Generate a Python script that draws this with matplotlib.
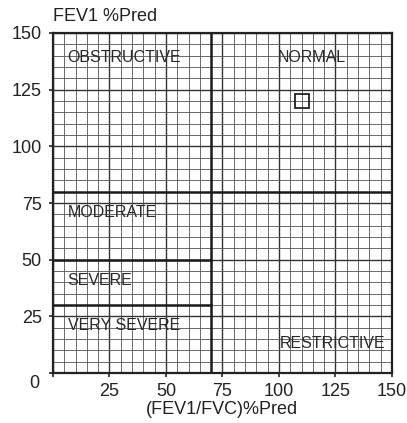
import matplotlib
matplotlib.use("Agg")
import matplotlib.pyplot as plt
import numpy as np

plt.rcParams['font.family'] = ['Liberation Sans', 'DejaVu Sans']

# ---- data ----
x_ticks = [0, 25, 50, 75, 100, 125, 150]
y_ticks = [0, 25, 50, 75, 100, 125, 150]
ratio_cut = 70          # (FEV1/FVC)%Pred boundary
fev1_normal_cut = 80    # FEV1 %Pred boundary (full width)
fev1_severity_cuts = [50, 30]  # left-side severity boundaries
region_names = ["OBSTRUCTIVE", "NORMAL", "MODERATE", "SEVERE", "VERY SEVERE", "RESTRICTIVE"]
region_x = [6.5, 99.5, 6.5, 6.5, 6.5, 100.5]
region_y = [139, 139, 71, 41, 21, 13]
point_x = [110]
point_y = [120]

fig = plt.figure(figsize=(4.07, 4.23), dpi=100)
ax = fig.add_axes([0.130, 0.118, 0.833, 0.804])

ax.set_xlim(0, 150)
ax.set_ylim(0, 150)

# grid
minor = np.arange(0, 151, 5)
ax.set_xticks(minor, minor=True)
ax.set_yticks(minor, minor=True)
ax.grid(which='minor', color='#5a5a5a', linewidth=0.7, alpha=0.9)
ax.grid(which='major', color='#333333', linewidth=1.0)
ax.tick_params(which='minor', length=0)
ax.set_axisbelow(True)

ax.set_xticks(x_ticks)
ax.set_xticklabels(['' if v == 0 else str(v) for v in x_ticks])
ax.set_yticks(y_ticks)
ax.set_yticklabels(['' if v == 0 else str(v) for v in y_ticks])
ax.tick_params(which='major', direction='out', length=3, width=1.2, labelsize=13,
               colors='#222222', pad=4)
ax.tick_params(axis='y', pad=5)
ax.text(-0.04, -0.03, "0", transform=ax.transAxes, ha='right', va='center',
        fontsize=13, color='#222222')

for s in ax.spines.values():
    s.set_linewidth(1.6)
    s.set_color('#222222')

# boundaries
ax.axvline(ratio_cut, color='#1a1a1a', linewidth=1.8)
ax.axhline(fev1_normal_cut, color='#1a1a1a', linewidth=1.8)
for c in fev1_severity_cuts:
    ax.plot([0, ratio_cut], [c, c], color='#1a1a1a', linewidth=1.8)

# labels
for name, x, y in zip(region_names, region_x, region_y):
    ax.text(x, y, name, fontsize=11.5, color='#2a2a2a', ha='left', va='center')

ax.plot(point_x, point_y, marker='s', markersize=10.5, markerfacecolor='none',
        markeredgecolor='#222222', markeredgewidth=1.3, linestyle='none')

fig.text(0.13, 0.96, "FEV1 %Pred", fontsize=13, color='#222222', ha='left', va='center')
ax.set_xlabel("(FEV1/FVC)%Pred", fontsize=13, color='#222222', labelpad=1)

fig.savefig("out.png", dpi=100, facecolor='white')
